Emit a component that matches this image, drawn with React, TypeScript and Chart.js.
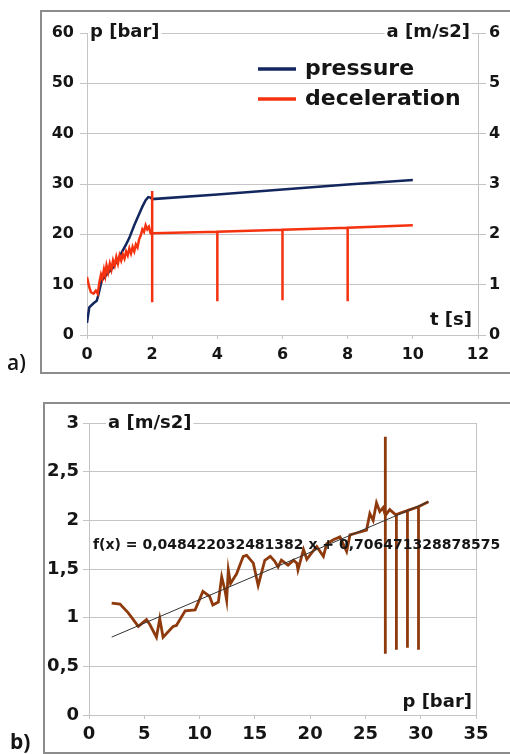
import React, { useEffect, useRef } from "react";
import { Chart, registerables } from "chart.js";

Chart.register(...registerables);

const FONT = "'DejaVu Sans', 'Liberation Sans', sans-serif";
const GRID = "#c4c4c4";
const INK = "#151515";

// ---------- chart a) : time series ----------
const timePressure = [0, 0.07, 0.2, 0.3, 0.35, 0.45, 0.6, 0.8, 0.95, 1.1, 1.2, 1.3, 1.45, 1.57, 1.7, 1.8, 1.88, 1.95, 2.0, 4, 6, 8, 10];
const pressure = [2.4, 5.5, 6.3, 6.8, 8, 10.8, 12, 13.4, 15, 16.8, 18, 19.3, 21.8, 23.6, 25.5, 26.8, 27.4, 27.3, 27.0, 27.9, 28.9, 29.9, 30.8];

const timeDecel = [0, 0.07, 0.12, 0.2, 0.27, 0.33, 0.38, 0.43, 0.47, 0.52, 0.56, 0.6, 0.65, 0.7, 0.75, 0.8, 0.85, 0.9, 0.95, 1.0, 1.05, 1.1, 1.15, 1.2, 1.25, 1.3, 1.35, 1.4, 1.45, 1.5, 1.55, 1.6, 1.65, 1.7, 1.75, 1.8, 1.85, 1.9, 1.95, 2.0, 2.0, 2.0, 2.0, 4, 4, 4, 6, 6, 6, 8, 8, 8, 10];
const deceleration = [1.15, 0.95, 0.85, 0.82, 0.88, 0.82, 1.05, 1.2, 1.12, 1.3, 1.18, 1.38, 1.25, 1.42, 1.3, 1.48, 1.38, 1.55, 1.42, 1.58, 1.48, 1.6, 1.52, 1.66, 1.58, 1.72, 1.62, 1.75, 1.66, 1.8, 1.74, 1.9, 1.98, 2.1, 2.05, 2.18, 2.1, 2.15, 2.02, 2.0, 2.86, 0.65, 2.02, 2.05, 0.67, 2.05, 2.09, 0.69, 2.09, 2.13, 0.67, 2.13, 2.18];

// ---------- chart b) : deceleration vs pressure ----------
const pressureB = [2.05, 2.8, 3.55, 4.46, 5.2, 5.5, 6.1, 6.4, 6.7, 7.6, 7.9, 8.7, 9.6, 10.3, 10.9, 11.2, 11.7, 12.0, 12.3, 12.45, 12.6, 12.8, 13.35, 13.95, 14.26, 14.86, 15.3, 15.9, 16.4, 16.8, 17.1, 17.4, 18.0, 18.5, 18.8, 18.9, 19.4, 19.7, 20.1, 20.6, 21.2, 21.5, 22.1, 22.7, 23.3, 23.6, 24.2, 25.1, 25.4, 25.7, 26.0, 26.3, 26.6, 26.8, 26.8, 26.8, 26.8, 27.2, 27.8, 27.8, 27.8, 28.8, 28.8, 28.8, 29.8, 29.8, 29.8, 30.7];
const decelB = [1.15, 1.14, 1.05, 0.91, 0.98, 0.93, 0.80, 0.99, 0.80, 0.91, 0.92, 1.07, 1.08, 1.27, 1.22, 1.13, 1.16, 1.42, 1.28, 1.18, 1.49, 1.35, 1.45, 1.63, 1.64, 1.56, 1.33, 1.59, 1.63, 1.58, 1.52, 1.59, 1.54, 1.59, 1.56, 1.49, 1.7, 1.6, 1.66, 1.73, 1.63, 1.76, 1.8, 1.83, 1.68, 1.85, 1.87, 1.9, 2.07, 2.0, 2.18, 2.09, 2.13, 2.05, 2.86, 0.63, 2.05, 2.11, 2.05, 0.67, 2.06, 2.1, 0.69, 2.1, 2.14, 0.67, 2.14, 2.19];
const trendP = [2.05, 30.7];
const trendA = [0.80, 2.19];
const trendLabel = "f(x) = 0,048422032481382 x + 0,706471328878575";

const zip = (xs: number[], ys: number[]) => xs.map((x, i) => ({ x, y: ys[i] }));

type TextItem = { text: string; size: number; dx: number; dy: number; alignRight?: boolean; fromBottom?: boolean; bg?: boolean };

const textPlugin = {
  id: "texts",
  afterDraw(chart: any, _args: any, opts: any) {
    const ctx = chart.ctx;
    const ca = chart.chartArea;
    (opts.items || []).forEach((t: TextItem) => {
      ctx.save();
      ctx.font = `bold ${t.size}px ${FONT}`;
      const w = ctx.measureText(t.text).width;
      const x = t.alignRight ? ca.right - t.dx - w : ca.left + t.dx;
      const y = t.fromBottom ? ca.bottom - t.dy : ca.top + t.dy;
      if (t.bg) {
        ctx.fillStyle = "#fff";
        ctx.fillRect(x - 2, y - t.size * 0.55, w + 4, t.size * 1.1);
      }
      ctx.fillStyle = INK;
      ctx.textBaseline = "middle";
      ctx.textAlign = "left";
      ctx.fillText(t.text, x, y);
      ctx.restore();
    });
    const lg = opts.legend;
    if (lg) {
      chart.data.datasets.forEach((ds: any, i: number) => {
        const y = ca.top + lg.dy + i * lg.row;
        const x = ca.left + lg.dx;
        ctx.save();
        ctx.strokeStyle = ds.borderColor;
        ctx.lineWidth = 3.5;
        ctx.beginPath();
        ctx.moveTo(x, y);
        ctx.lineTo(x + lg.len, y);
        ctx.stroke();
        ctx.font = `bold ${lg.size}px ${FONT}`;
        ctx.fillStyle = INK;
        ctx.textBaseline = "middle";
        ctx.fillText(ds.label, x + lg.len + lg.gap, y);
        ctx.restore();
      });
    }
  },
};

function ChartA() {
  const ref = useRef<HTMLCanvasElement>(null);
  useEffect(() => {
    const chart = new Chart(ref.current!, {
      type: "line",
      data: {
        datasets: [
          {
            label: "pressure",
            data: zip(timePressure, pressure),
            borderColor: "#13275f",
            borderWidth: 2.5,
            pointRadius: 0,
            tension: 0,
            yAxisID: "y",
            order: 1,
          },
          {
            label: "deceleration",
            data: zip(timeDecel, deceleration),
            borderColor: "#f5320f",
            borderWidth: 2.5,
            pointRadius: 0,
            tension: 0,
            yAxisID: "y2",
            order: 0,
          },
        ],
      },
      options: {
        animation: false,
        responsive: false,
        layout: { padding: { top: 33, left: 0, right: 0, bottom: 0 } },
        plugins: {
          legend: { display: false },
          tooltip: { enabled: false },
          texts: {
            items: [
              { text: "p [bar]", size: 18, dx: 3, dy: -1, bg: true },
              { text: "a [m/s2]", size: 18, dx: 8, dy: -1, alignRight: true, bg: true },
              { text: "t [s]", size: 18, dx: 6, dy: 15, alignRight: true, fromBottom: true },
            ],
            legend: { dx: 171, dy: 36, row: 30, len: 38, gap: 9, size: 22 },
          },
        } as any,
        scales: {
          x: {
            type: "linear",
            min: 0,
            max: 12,
            ticks: { stepSize: 2, color: INK, font: { family: FONT, size: 16, weight: "bold" }, padding: 6 },
            grid: { drawOnChartArea: false, tickLength: 4, color: GRID, tickColor: GRID },
            border: { color: GRID },
            afterFit: (s: any) => { s.height = 45; },
          },
          y: {
            position: "left",
            min: 0,
            max: 60,
            ticks: { stepSize: 10, color: INK, font: { family: FONT, size: 16, weight: "bold" }, padding: 6 },
            grid: { color: GRID, tickLength: 7 },
            border: { color: GRID },
            afterFit: (s: any) => { s.width = 87; },
          },
          y2: {
            position: "right",
            min: 0,
            max: 6,
            ticks: { stepSize: 1, color: INK, font: { family: FONT, size: 16, weight: "bold" }, padding: 3 },
            grid: { drawOnChartArea: false, color: GRID, tickLength: 8 },
            border: { color: GRID },
            afterFit: (s: any) => { s.width = 32; },
          },
        },
      },
      plugins: [textPlugin],
    } as any);
    return () => chart.destroy();
  }, []);
  return <canvas ref={ref} width={510} height={380} style={{ position: "absolute", left: 0, top: 0, width: 510, height: 380 }} />;
}

function ChartB() {
  const ref = useRef<HTMLCanvasElement>(null);
  useEffect(() => {
    const chart = new Chart(ref.current!, {
      type: "line",
      data: {
        datasets: [
          {
            label: "trend",
            data: zip(trendP, trendA),
            borderColor: "#333333",
            borderWidth: 1,
            pointRadius: 0,
            tension: 0,
            order: 0,
          },
          {
            label: "a(p)",
            data: zip(pressureB, decelB),
            borderColor: "#8e3a0c",
            borderWidth: 2.8,
            pointRadius: 0,
            tension: 0,
            order: 1,
          },
        ],
      },
      options: {
        animation: false,
        responsive: false,
        layout: { padding: { top: 33, left: 0, right: 34, bottom: 0 } },
        plugins: {
          legend: { display: false },
          tooltip: { enabled: false },
          texts: {
            items: [
              { text: "a [m/s2]", size: 18, dx: 19, dy: 0, bg: true },
              { text: "p [bar]", size: 18, dx: 4, dy: 13, alignRight: true, fromBottom: true },
              { text: trendLabel, size: 14, dx: 4, dy: 122 },
            ],
          },
        } as any,
        scales: {
          x: {
            type: "linear",
            min: 0,
            max: 35,
            ticks: { stepSize: 5, color: INK, font: { family: FONT, size: 18, weight: "bold" }, padding: 5 },
            grid: {
              drawOnChartArea: true,
              tickLength: 4,
              color: (c: any) => (c.tick && c.tick.value === 35 ? GRID : "rgba(0,0,0,0)"),
              tickColor: GRID,
            },
            border: { color: GRID },
            afterFit: (s: any) => { s.height = 39; },
          },
          y: {
            min: 0,
            max: 3,
            ticks: {
              stepSize: 0.5,
              color: INK,
              font: { family: FONT, size: 18, weight: "bold" },
              padding: 4,
              callback: (v: any) => String(v).replace(".", ","),
            },
            grid: { color: GRID, tickLength: 6 },
            border: { color: GRID },
            afterFit: (s: any) => { s.width = 89; },
          },
        },
      },
      plugins: [textPlugin],
    } as any);
    return () => chart.destroy();
  }, []);
  return <canvas ref={ref} width={510} height={364} style={{ position: "absolute", left: 0, top: 390, width: 510, height: 364 }} />;
}

export default function App() {
  return (
    <div style={{ position: "absolute", left: 0, top: 0, width: 510, height: 754, overflow: "hidden", background: "#fff" }}>
      <div style={{ position: "absolute", left: 40, top: 10, width: 520, height: 360, border: "2px solid #8c8c8c" }} />
      <div style={{ position: "absolute", left: 43, top: 402, width: 520, height: 348, border: "2px solid #8c8c8c" }} />
      <ChartA />
      <ChartB />
      <div style={{ position: "absolute", left: 7, top: 352, fontFamily: "'Open Sans', sans-serif", fontSize: 21, fontWeight: 600, lineHeight: 1, color: INK }}>a)</div>
      <div style={{ position: "absolute", left: 10, top: 731, fontFamily: "'Open Sans', sans-serif", fontSize: 21, fontWeight: 700, lineHeight: 1, color: INK }}>b)</div>
    </div>
  );
}
